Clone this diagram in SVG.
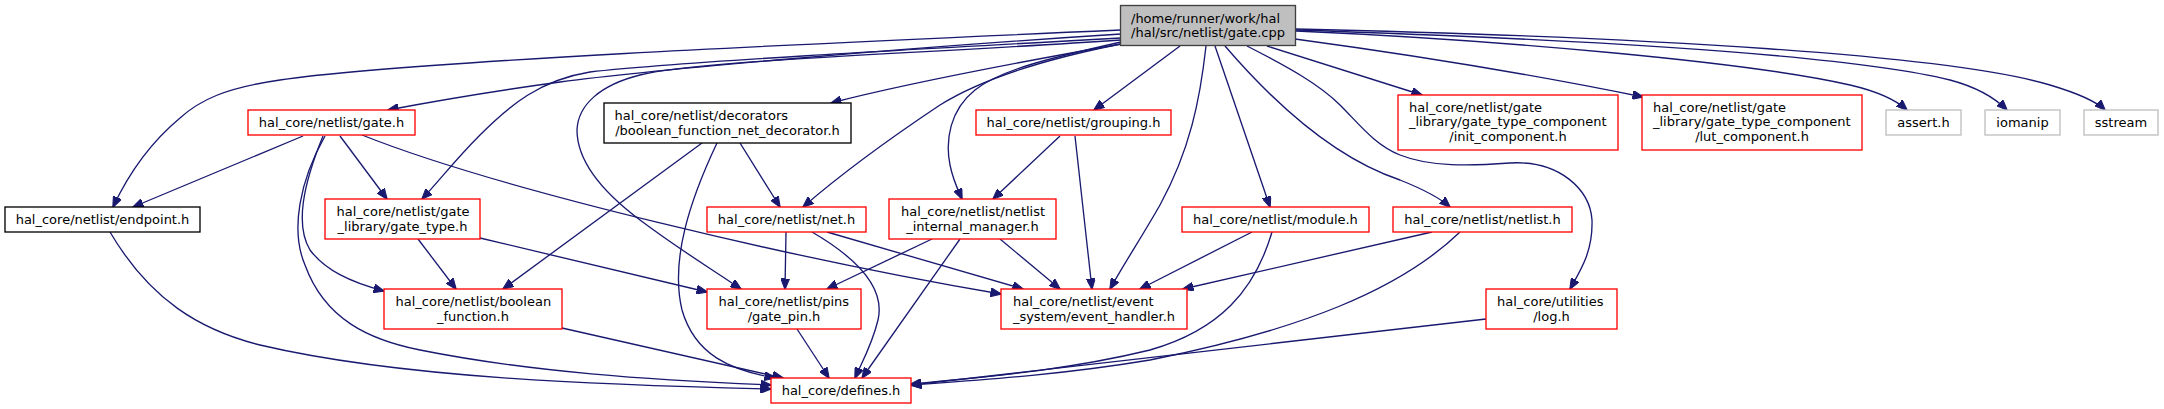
<svg xmlns="http://www.w3.org/2000/svg" width="2164" height="409" viewBox="0 0 2164 409">
<style>
.n rect{fill:#ffffff;stroke-width:1.33}
.red rect{stroke:#ff0000}
.blk rect{stroke:#000000}
.gry rect{stroke:#bfbfbf}
.root rect{fill:#bfbfbf;stroke:#404040}
text{font-family:"DejaVu Sans","Liberation Sans",sans-serif;font-size:13px;fill:#000000}
.c{text-anchor:middle}
.e path{fill:none;stroke:#191970;stroke-width:1.33;marker-end:url(#ah)}
</style>
<defs>
<marker id="ah" markerUnits="userSpaceOnUse" viewBox="0 0 11 9" markerWidth="11" markerHeight="9" refX="10.5" refY="4.5" orient="auto">
<path d="M0,0 L11,4.5 L0,9 Z" fill="#191970" stroke="#191970" stroke-width="1"/>
</marker>
</defs>
<rect x="0" y="0" width="2164" height="409" fill="#ffffff"/>
<g id="edges" class="e">
<!-- from gate.cpp -->
<path d="M1121,30 C800,44 400,62 280,80 C225,88 200,100 180,118 C150,143 128,175 113,207"/>
<path d="M1121,34 C900,48 650,70 560,82 C480,93 430,102 388,110"/>
<path d="M1121,38 C900,50 680,62 590,72 C540,80 510,105 480,135 C455,160 440,180 422,199"/>
<path d="M1121,40 C900,55 700,60 640,75 C600,85 578,105 577,130 C577,160 600,190 640,220 C680,250 710,268 741,289"/>
<path d="M1121,44 C1020,62 900,85 831,103"/>
<path d="M1121,44 C1040,60 980,80 940,105 C880,145 840,175 803,207"/>
<path d="M1121,42 C1050,58 1000,70 975,90 C950,110 945,140 950,165 C953,180 958,190 962,199"/>
<path d="M1180,46 L1094,110"/>
<path d="M1206,46 C1200,100 1190,150 1160,205 C1140,240 1125,262 1110,289"/>
<path d="M1215,46 L1270,207"/>
<path d="M1225,46 C1280,110 1340,160 1400,180 C1425,190 1440,198 1450,207"/>
<path d="M1267,46 L1422,95"/>
<path d="M1295,39 C1450,60 1550,78 1643,97"/>
<path d="M1247,46 C1290,68 1320,85 1340,105 C1360,125 1375,145 1400,155 C1430,167 1470,166 1510,163 C1560,160 1590,190 1592,220 C1593,250 1582,268 1570,289"/>
<path d="M1296,31 C1500,40 1750,62 1850,85 C1880,92 1896,100 1907,110"/>
<path d="M1296,30 C1600,40 1850,55 1950,80 C1980,88 1997,100 2007,110"/>
<path d="M1296,29 C1650,37 1950,55 2050,85 C2080,94 2097,102 2105,110"/>
<!-- from gate.h -->
<path d="M303,136 L133,207"/>
<path d="M340,136 L387,199"/>
<path d="M323,136 C303,185 295,225 310,250 C325,270 350,282 384,291"/>
<path d="M325,136 C300,180 290,230 305,265 C325,320 370,340 420,350 C530,372 650,380 771,385"/>
<path d="M362,135 C500,190 800,260 1001,294"/>
<!-- from endpoint.h -->
<path d="M110,232 C150,300 200,330 260,345 C400,378 600,385 771,389"/>
<!-- from decorators -->
<path d="M702,143 L503,289"/>
<path d="M740,143 L780,207"/>
<path d="M717,143 C690,200 670,260 682,310 C695,355 730,370 775,378"/>
<!-- from gate_type.h -->
<path d="M418,239 L456,289"/>
<path d="M480,238 L707,292"/>
<!-- from boolean_function.h -->
<path d="M562,328 L783,378"/>
<!-- from net.h -->
<path d="M786,232 L785,289"/>
<path d="M827,232 L1023,289"/>
<path d="M812,232 C860,260 885,290 878,320 C872,345 862,362 855,378"/>
<!-- from netlist_internal_manager.h -->
<path d="M932,239 L827,289"/>
<path d="M1000,239 L1060,289"/>
<path d="M960,239 L862,378"/>
<!-- from gate_pin.h -->
<path d="M797,329 L829,378"/>
<!-- from grouping.h -->
<path d="M1060,136 L993,199"/>
<path d="M1075,136 L1092,289"/>
<!-- from module.h -->
<path d="M1252,232 L1140,289"/>
<path d="M1272,232 C1255,290 1220,330 1150,350 C1060,372 970,378 911,384"/>
<!-- from netlist.h -->
<path d="M1432,232 L1183,289"/>
<path d="M1460,232 C1400,290 1300,330 1150,360 C1060,375 980,380 911,385"/>
<!-- from log.h -->
<path d="M1486,319 L911,385"/>
</g>
<g id="node_gate_cpp" class="n root"><rect x="1120.5" y="5.5" width="175" height="40"/><text x="1131" y="22.5">/home/runner/work/hal</text><text x="1208" y="37" class="c">/hal/src/netlist/gate.cpp</text></g>
<g id="node_gate_h" class="n red"><rect x="248" y="110" width="167" height="25"/><text x="331.5" y="127" class="c">hal_core/netlist/gate.h</text></g>
<g id="node_endpoint_h" class="n blk"><rect x="5" y="207" width="195" height="25"/><text x="102.5" y="224" class="c">hal_core/netlist/endpoint.h</text></g>
<g id="node_gate_type_h" class="n red"><rect x="325" y="199" width="155" height="40"/><text x="336.5" y="216">hal_core/netlist/gate</text><text x="402.5" y="230.5" class="c">_library/gate_type.h</text></g>
<g id="node_boolean_function_h" class="n red"><rect x="384" y="289" width="178" height="40"/><text x="395.5" y="306">hal_core/netlist/boolean</text><text x="473" y="320.5" class="c">_function.h</text></g>
<g id="node_decorator_h" class="n blk"><rect x="604" y="103" width="247" height="40"/><text x="614.5" y="120">hal_core/netlist/decorators</text><text x="727.5" y="134.5" class="c">/boolean_function_net_decorator.h</text></g>
<g id="node_net_h" class="n red"><rect x="707" y="207" width="159" height="25"/><text x="786.5" y="224" class="c">hal_core/netlist/net.h</text></g>
<g id="node_gate_pin_h" class="n red"><rect x="707" y="289" width="154" height="40"/><text x="718.5" y="306">hal_core/netlist/pins</text><text x="784" y="320.5" class="c">/gate_pin.h</text></g>
<g id="node_defines_h" class="n red"><rect x="771" y="378" width="140" height="25"/><text x="841" y="395" class="c">hal_core/defines.h</text></g>
<g id="node_netlist_internal_manager_h" class="n red"><rect x="889" y="199" width="167" height="40"/><text x="901" y="216">hal_core/netlist/netlist</text><text x="972.5" y="230.5" class="c">_internal_manager.h</text></g>
<g id="node_grouping_h" class="n red"><rect x="976" y="110" width="195" height="25"/><text x="1073.5" y="127" class="c">hal_core/netlist/grouping.h</text></g>
<g id="node_event_handler_h" class="n red"><rect x="1001" y="289" width="186" height="40"/><text x="1013" y="306">hal_core/netlist/event</text><text x="1094" y="320.5" class="c">_system/event_handler.h</text></g>
<g id="node_module_h" class="n red"><rect x="1182" y="207" width="187" height="25"/><text x="1275.5" y="224" class="c">hal_core/netlist/module.h</text></g>
<g id="node_netlist_h" class="n red"><rect x="1393" y="207" width="179" height="25"/><text x="1482.5" y="224" class="c">hal_core/netlist/netlist.h</text></g>
<g id="node_init_component_h" class="n red"><rect x="1398" y="95" width="220" height="55"/><text x="1409" y="111.5">hal_core/netlist/gate</text><text x="1409" y="126">_library/gate_type_component</text><text x="1508" y="140.5" class="c">/init_component.h</text></g>
<g id="node_lut_component_h" class="n red"><rect x="1642" y="95" width="220" height="55"/><text x="1653" y="111.5">hal_core/netlist/gate</text><text x="1653" y="126">_library/gate_type_component</text><text x="1752" y="140.5" class="c">/lut_component.h</text></g>
<g id="node_log_h" class="n red"><rect x="1486" y="289" width="131" height="40"/><text x="1497" y="306">hal_core/utilities</text><text x="1551.5" y="320.5" class="c">/log.h</text></g>
<g id="node_assert_h" class="n gry"><rect x="1886" y="110" width="75" height="25"/><text x="1923.5" y="127" class="c">assert.h</text></g>
<g id="node_iomanip" class="n gry"><rect x="1985" y="110" width="75" height="25"/><text x="2022.5" y="127" class="c">iomanip</text></g>
<g id="node_sstream" class="n gry"><rect x="2084" y="110" width="74" height="25"/><text x="2121" y="127" class="c">sstream</text></g>
</svg>
